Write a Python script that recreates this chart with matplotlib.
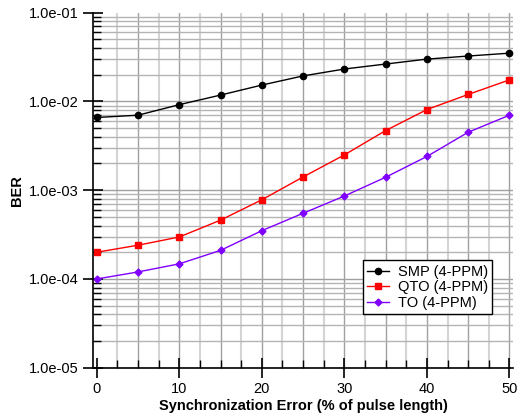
import matplotlib
matplotlib.use('Agg')
import matplotlib.pyplot as plt
from matplotlib.ticker import FixedLocator, LogLocator, FuncFormatter, MultipleLocator

plt.rcParams['font.family'] = ['Liberation Sans', 'DejaVu Sans']

# datos
error_sinc = [0, 5, 10, 15, 20, 25, 30, 35, 40, 45, 50]
ber_smp = [6.6e-3, 7.0e-3, 9.2e-3, 1.18e-2, 1.53e-2, 1.94e-2, 2.32e-2, 2.64e-2, 3.0e-2, 3.25e-2, 3.5e-2]
ber_qto = [2.0e-4, 2.4e-4, 2.97e-4, 4.6e-4, 7.8e-4, 1.41e-3, 2.5e-3, 4.7e-3, 8.1e-3, 1.2e-2, 1.75e-2]
ber_to = [1.0e-4, 1.2e-4, 1.48e-4, 2.1e-4, 3.5e-4, 5.5e-4, 8.6e-4, 1.4e-3, 2.4e-3, 4.5e-3, 7.0e-3]

fig = plt.figure(figsize=(5.19, 4.18), dpi=100)
ax = fig.add_axes([0.18, 0.1203, 0.808, 0.8493])

# rejilla dibujada a mano
for xv in [2.5 + 5 * k for k in range(10)]:
    ax.axvline(xv, color='#d4d4d4', lw=1.5, zorder=0)
for xv in [5 * k for k in range(1, 11)]:
    ax.axvline(xv, color='#a0a0a0', lw=1, zorder=0)
for dec in [1e-5, 1e-4, 1e-3, 1e-2]:
    for m in range(2, 10):
        ax.axhline(dec * m, color='#b4b4b4', lw=1, zorder=0)
    ax.axhline(dec, color='#a0a0a0', lw=1, zorder=0)

ax.plot(error_sinc, ber_smp, color='black', marker='o', markersize=4.5, lw=1, label='SMP (4-PPM)')
ax.plot(error_sinc, ber_qto, color='#ff0000', marker='s', markersize=5, lw=1, label='QTO (4-PPM)')
ax.plot(error_sinc, ber_to, color='#7f00ff', marker='D', markersize=3.5, lw=1, label='TO (4-PPM)')

ax.set_yscale('log')
ax.set_xlim(-0.4, 50.4)
ax.set_ylim(1e-5, 1e-1)

ax.xaxis.set_major_locator(MultipleLocator(10))
ax.xaxis.set_minor_locator(MultipleLocator(2.5))
ax.yaxis.set_major_locator(FixedLocator([1e-5, 1e-4, 1e-3, 1e-2, 1e-1]))
ax.yaxis.set_minor_locator(LogLocator(base=10, subs=range(2, 10)))
ax.yaxis.set_major_formatter(FuncFormatter(lambda v, p: f'{v:.1e}'))
ax.yaxis.set_minor_formatter(FuncFormatter(lambda v, p: ''))

ax.tick_params(which='major', direction='inout', length=14, width=1.2, labelsize=10.5, color='black')
ax.tick_params(which='minor', direction='in', length=6, width=1, color='black')

for s in ['top', 'right']:
    ax.spines[s].set_visible(False)
for s in ['left', 'bottom']:
    ax.spines[s].set_linewidth(1.2)

ax.set_xlabel('Synchronization Error (% of pulse length)', fontweight='bold', fontsize=10.5, labelpad=2)
ax.set_ylabel('BER', fontweight='bold', fontsize=10.5, labelpad=4)

leg = ax.legend(loc='lower right', bbox_to_anchor=(0.951, 0.151), borderaxespad=0, fontsize=10.5,
                fancybox=False, framealpha=1, edgecolor='black', borderpad=0.3, labelspacing=0.1,
                handlelength=1.5, handletextpad=0.6)
leg.get_frame().set_linewidth(1)

fig.savefig('out.png', dpi=100)
